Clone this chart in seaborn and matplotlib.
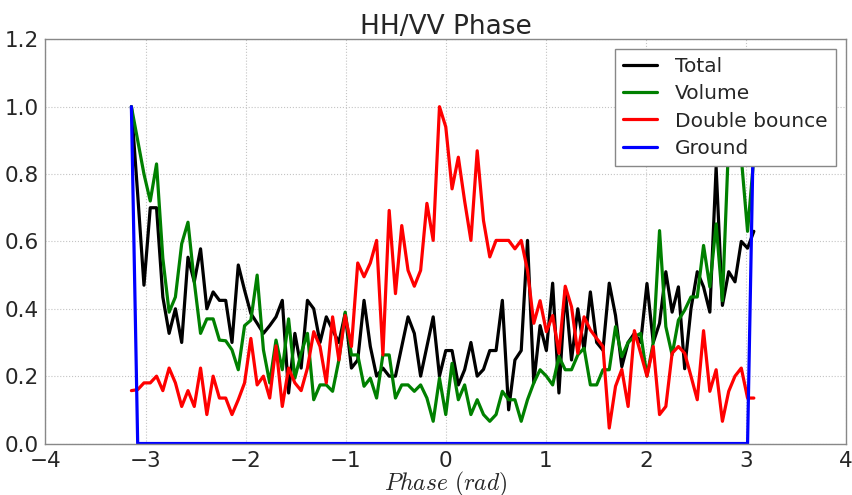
import numpy as np
import pandas as pd
import matplotlib
matplotlib.use('Agg')
import matplotlib.pyplot as plt
import seaborn as sns

# phase bins (100 bins over -pi..pi)
phase = np.linspace(-np.pi, np.pi, 100, endpoint=False)

total = [1.0, 0.74, 0.47, 0.70, 0.70, 0.435, 0.327, 0.40, 0.30, 0.553,
         0.48, 0.578, 0.40, 0.45, 0.425, 0.425, 0.30, 0.53, 0.455, 0.386,
         0.357, 0.327, 0.35, 0.376, 0.425, 0.15, 0.327, 0.224, 0.425, 0.40,
         0.30, 0.376, 0.337, 0.30, 0.386, 0.224, 0.248, 0.425, 0.288, 0.20,
         0.224, 0.20, 0.20, 0.288, 0.376, 0.327, 0.20, 0.288, 0.376, 0.20,
         0.276, 0.276, 0.174, 0.219, 0.30, 0.20, 0.22, 0.276, 0.276, 0.425,
         0.10, 0.248, 0.276, 0.603, 0.18, 0.35, 0.276, 0.476, 0.15, 0.455,
         0.248, 0.40, 0.277, 0.45, 0.30, 0.277, 0.476, 0.38, 0.228, 0.30,
         0.327, 0.30, 0.475, 0.30, 0.357, 0.51, 0.39, 0.465, 0.222, 0.40,
         0.51, 0.465, 0.39, 0.82, 0.41, 0.51, 0.48, 0.60, 0.58, 0.63]

volume = [1.0, 0.9, 0.8, 0.72, 0.83, 0.55, 0.39, 0.435, 0.593, 0.657,
          0.48, 0.327, 0.37, 0.37, 0.307, 0.305, 0.278, 0.219, 0.35, 0.366,
          0.50, 0.278, 0.18, 0.307, 0.219, 0.37, 0.194, 0.268, 0.327, 0.13,
          0.174, 0.174, 0.155, 0.248, 0.39, 0.263, 0.263, 0.17, 0.194, 0.135,
          0.263, 0.263, 0.135, 0.174, 0.174, 0.155, 0.174, 0.135, 0.066, 0.194,
          0.086, 0.238, 0.13, 0.174, 0.086, 0.13, 0.086, 0.066, 0.086, 0.155,
          0.13, 0.13, 0.066, 0.13, 0.18, 0.219, 0.20, 0.174, 0.258, 0.219,
          0.219, 0.263, 0.283, 0.174, 0.174, 0.219, 0.219, 0.347, 0.258, 0.30,
          0.317, 0.327, 0.20, 0.30, 0.632, 0.347, 0.263, 0.366, 0.396, 0.435,
          0.435, 0.588, 0.465, 0.652, 0.424, 0.9, 0.95, 0.85, 0.63, 0.85]

double_bounce = [0.157, 0.16, 0.18, 0.18, 0.20, 0.157, 0.224, 0.18, 0.11, 0.157,
                 0.11, 0.224, 0.086, 0.20, 0.135, 0.135, 0.086, 0.13, 0.18, 0.312,
                 0.174, 0.20, 0.135, 0.29, 0.11, 0.224, 0.18, 0.157, 0.224, 0.332,
                 0.288, 0.18, 0.376, 0.248, 0.38, 0.288, 0.536, 0.495, 0.536, 0.603,
                 0.263, 0.692, 0.445, 0.647, 0.514, 0.467, 0.514, 0.713, 0.603, 1.0,
                 0.94, 0.756, 0.85, 0.72, 0.603, 0.869, 0.662, 0.554, 0.603, 0.603,
                 0.603, 0.578, 0.603, 0.514, 0.357, 0.424, 0.332, 0.38, 0.268, 0.467,
                 0.406, 0.268, 0.376, 0.337, 0.312, 0.288, 0.046, 0.17, 0.22, 0.11,
                 0.335, 0.268, 0.20, 0.288, 0.086, 0.11, 0.268, 0.288, 0.268, 0.20,
                 0.13, 0.335, 0.155, 0.219, 0.066, 0.155, 0.20, 0.224, 0.135, 0.135]

ground = [1.0] + [0.0] * 98 + [1.0]

labels = ['Total', 'Volume', 'Double bounce', 'Ground']
colors = ['#000000', '#008000', '#ff0000', '#0000ff']

df = pd.DataFrame({
    'phase': np.tile(phase, 4),
    'value': np.concatenate([total, volume, double_bounce, ground]),
    'component': np.repeat(labels, len(phase)),
})

sns.set_style('whitegrid', {'grid.linestyle': ':', 'grid.color': '#c4c4c4',
                            'axes.edgecolor': '#888888'})
plt.rcParams['font.family'] = ['DejaVu Sans']
plt.rcParams['mathtext.fontset'] = 'cm'

fig = plt.figure(figsize=(8.52, 4.95), dpi=100)
ax = fig.add_axes([0.0534, 0.104, 0.9396, 0.8166])

sns.lineplot(data=df, x='phase', y='value', hue='component', hue_order=labels,
             palette=dict(zip(labels, colors)), linewidth=2.3, errorbar=None,
             sort=False, ax=ax)

ax.set_xlim(-4, 4)
ax.set_ylim(0, 1.2)
ax.set_xticks(range(-4, 5))
ax.set_yticks([0.0, 0.2, 0.4, 0.6, 0.8, 1.0, 1.2])
ax.set_yticklabels(['0.0', '0.2', '0.4', '0.6', '0.8', '1.0', '1.2'])
ax.tick_params(axis='x', labelsize=15.5, pad=2)
ax.tick_params(axis='y', labelsize=15.5, pad=1)
ax.set_title('HH/VV Phase', fontsize=19, pad=4)
ax.set_xlabel(r'$Phase\ (rad)$', fontsize=17, labelpad=-1)
ax.set_ylabel('')
for s in ax.spines.values():
    s.set_linewidth(1.0)

leg = ax.legend(loc='upper right', fontsize=14.5, frameon=True, fancybox=False,
                framealpha=1, edgecolor='#888888', handlelength=1.7,
                handletextpad=0.9, labelspacing=0.4)
for line in leg.get_lines():
    line.set_linewidth(2.3)

fig.savefig('out.png', dpi=100)
